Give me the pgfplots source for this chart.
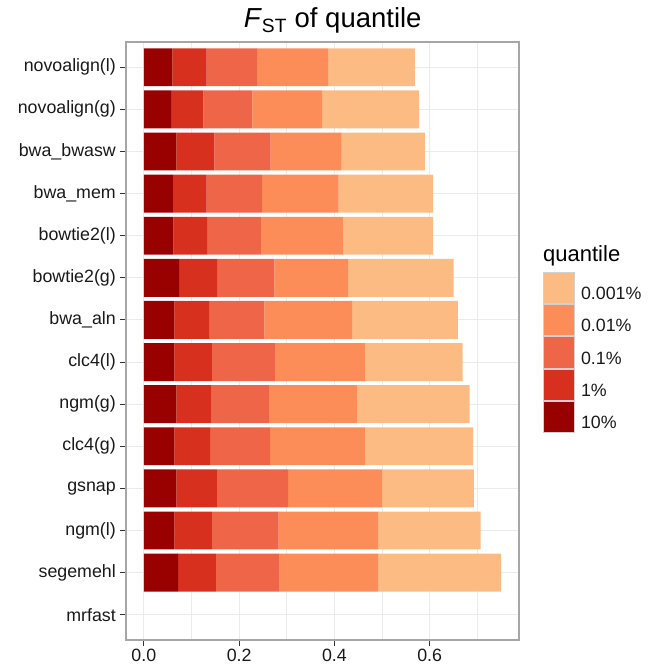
\documentclass[border=0pt]{standalone}
\usepackage{pgfplots}
\pgfplotsset{compat=1.18}
\usepackage{pgfplotstable}
\usepackage{fontspec}
\setmainfont{Liberation Sans}
\definecolor{qa}{HTML}{990000}
\definecolor{qb}{HTML}{D7301F}
\definecolor{qc}{HTML}{EF6548}
\definecolor{qd}{HTML}{FC8D59}
\definecolor{qe}{HTML}{FDBB84}
\definecolor{gridc}{HTML}{EBEBEB}
\definecolor{framec}{HTML}{A6A6A6}
\definecolor{tickc}{HTML}{333333}

% segment widths (10%, 1%, 0.1%, 0.01%, 0.001%)
\pgfplotstableread{
y a b c d e
2  0.072 0.079 0.134 0.207 0.258
3  0.064 0.079 0.140 0.209 0.215
4  0.068 0.087 0.148 0.197 0.193
5  0.064 0.075 0.126 0.199 0.227
6  0.068 0.074 0.121 0.184 0.237
7  0.064 0.079 0.132 0.189 0.205
8  0.064 0.073 0.116 0.184 0.222
9  0.074 0.080 0.120 0.155 0.221
10 0.062 0.071 0.114 0.172 0.188
11 0.061 0.071 0.116 0.161 0.198
12 0.068 0.080 0.118 0.149 0.175
13 0.057 0.068 0.103 0.146 0.204
14 0.060 0.072 0.106 0.149 0.182
}\data

\begin{document}
\begin{tikzpicture}
\begin{axis}[
  scale only axis, width=393pt, height=598pt,
  xmin=-0.0375, xmax=0.7875, ymin=0.4, ymax=14.6,
  xbar stacked, bar width=0.9,
  clip mode=individual,
  xtick={0,0.2,0.4,0.6}, xticklabels={0.0,0.2,0.4,0.6},
  minor xtick={0.1,0.3,0.5,0.7},
  ytick={1,...,14},
  yticklabels={mrfast,segemehl,ngm(l),gsnap,clc4(g),ngm(g),clc4(l),bwa\_aln,bowtie2(g),bowtie2(l),bwa\_mem,bwa\_bwasw,novoalign(g),novoalign(l)},
  grid=both,
  major grid style={draw=gridc, line width=1.1pt},
  minor grid style={draw=gridc, line width=0.6pt},
  axis line style={draw=framec, line width=1.2pt},
  tick align=outside, xtick pos=bottom, ytick pos=left,
  major tick length=6pt, minor tick length=0pt,
  tick style={draw=tickc, line width=1pt},
  ticklabel style={font=\fontsize{17.8}{20}\selectfont, text=black!90},
  xticklabel style={inner sep=3pt},
  yticklabel style={inner sep=4pt},
  reverse legend, legend cell align=left,
  legend image code/.code={\draw[#1,/tikz/.cd,draw=black!18,line width=1pt] (0pt,-9.3pt) rectangle (31pt,22pt);},
  legend style={at={(axis description cs:1.0611,0.616)}, anchor=north west,
    draw=none, fill=none, inner sep=0pt, outer sep=0pt, row sep=0pt,
    font=\fontsize{17.8}{20}\selectfont, nodes={inner sep=0pt, text=black!90},
    /tikz/every odd column/.append style={column sep=6pt}},
]
\addplot[fill=qa, draw=none] table[x=a, y=y] {\data};
\addplot[fill=qb, draw=none] table[x=b, y=y] {\data};
\addplot[fill=qc, draw=none] table[x=c, y=y] {\data};
\addplot[fill=qd, draw=none] table[x=d, y=y] {\data};
\addplot[fill=qe, draw=none] table[x=e, y=y] {\data};
\legend{10\%,1\%,0.1\%,0.01\%,0.001\%}
\end{axis}
\node[anchor=base, inner sep=0pt, font=\fontsize{27.5}{30}\selectfont] at ([shift={(206.7pt,14pt)}]current axis.north west) {\textit{F}\textsubscript{ST} of quantile};
\node[anchor=base west, inner sep=0pt, font=\fontsize{22}{24}\selectfont] at ([shift={(417pt,-219.7pt)}]current axis.north west) {quantile};
\pgfresetboundingbox
\path[use as bounding box] ([shift={(-126pt,-29pt)}]current axis.south west) rectangle ([shift={(138pt,42pt)}]current axis.north east);
\end{tikzpicture}
\end{document}
